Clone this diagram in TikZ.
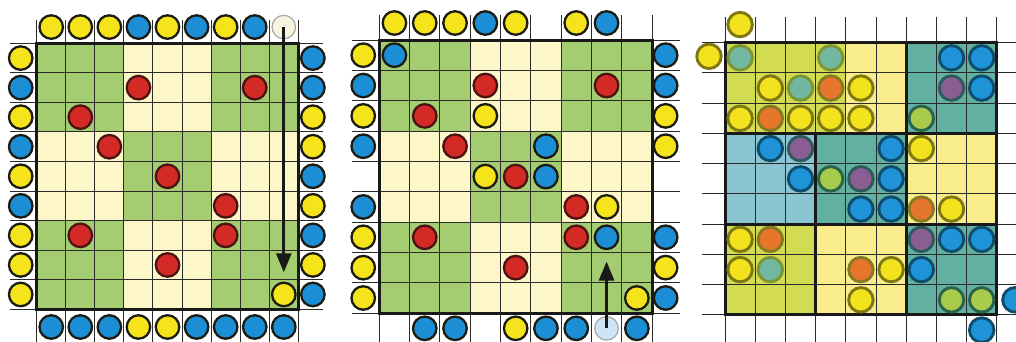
\documentclass[tikz,border=0pt]{standalone}
\usetikzlibrary{arrows.meta}
\definecolor{cgreen}{HTML}{A4CD72}
\definecolor{ccream}{HTML}{FCF6C8}
\definecolor{cyel}{HTML}{F5E41C}
\definecolor{cblue}{HTML}{1B8ED6}
\definecolor{cred}{HTML}{D42A25}
\definecolor{credline}{HTML}{4A1212}
\definecolor{cline}{HTML}{1C1C12}
\definecolor{gridc}{HTML}{2A2A2A}
\definecolor{ghostw}{HTML}{F8F5DE}
\definecolor{ghostb}{HTML}{CDE5F5}
% panel 3
\definecolor{tyg}{HTML}{D3DB52}
\definecolor{tly}{HTML}{F8EC8C}
\definecolor{tteal}{HTML}{62B0A2}
\definecolor{tlb}{HTML}{8AC6D2}
\definecolor{tY}{HTML}{F3E31E}
\definecolor{tYd}{HTML}{7D7812}
\definecolor{tO}{HTML}{E5762B}
\definecolor{tOd}{HTML}{867A22}
\definecolor{tS}{HTML}{72B8A0}
\definecolor{tSd}{HTML}{7C9634}
\definecolor{tB}{HTML}{1F93D8}
\definecolor{tBd}{HTML}{0E4D6C}
\definecolor{tP}{HTML}{8B5E93}
\definecolor{tPd}{HTML}{2E5A5C}
\definecolor{tL}{HTML}{A9CB4C}
\definecolor{tLd}{HTML}{2A6448}
\tikzset{
  pc/.style={circle, minimum size=23.5pt, inner sep=0pt, line width=2.3pt, draw=cline},
  yc/.style={pc, fill=cyel},
  bc/.style={pc, fill=cblue},
  rc/.style={pc, fill=cred, draw=credline},
  gw/.style={pc, fill=ghostw, draw=gray!70, line width=1.2pt},
  gb/.style={pc, fill=ghostb, draw=gray!70, line width=1.2pt},
  tc/.style={circle, minimum size=24.5pt, inner sep=0pt, line width=2.9pt},
  ty/.style={tc, fill=tY, draw=tYd},
  to/.style={tc, fill=tO, draw=tOd},
  ts/.style={tc, fill=tS, draw=tSd},
  tb/.style={tc, fill=tB, draw=tBd},
  tp/.style={tc, fill=tP, draw=tPd},
  tl/.style={tc, fill=tL, draw=tLd},
  thin grid/.style={draw=gridc, line width=1pt},
  frame/.style={draw=black!90, line width=3pt},
  arr/.style={draw=black!90, line width=2.8pt, -{Triangle[width=15pt,length=19pt]}},
}
\begin{document}
\begin{tikzpicture}[x=1pt, y=-1pt]
\useasboundingbox[fill=white] (0,0) rectangle (1016,341);

% ================= Panel 1 =================
\begin{scope}[shift={(36.7,43.3)}, x=29.07pt, y=-29.55pt]
  \foreach \br in {0,1,2}{
    \foreach \bc in {0,1,2}{
      \pgfmathtruncatemacro{\pty}{mod(\br+\bc,2)}
      \ifnum\pty=0
        \fill[cgreen] (3*\bc,3*\br) rectangle ++(3,3);
      \else
        \fill[ccream] (3*\bc,3*\br) rectangle ++(3,3);
      \fi
    }
  }
  \foreach \k in {0,...,9}{
    \draw[thin grid] (\k,-0.8) -- (\k,10.2);
    \draw[thin grid] (-0.92,\k) -- (9.85,\k);
  }
  \draw[frame] (0,0) rectangle (9,9);
  % border circles
  \foreach \s [count=\i from 0] in {yc,yc,yc,bc,yc,bc,yc,bc}
    \node[\s] (aT\i) at (\i+0.5,-0.55) {};
  \node[gw] (aG) at (8.5,-0.55) {};
  \foreach \s [count=\i from 0] in {bc,bc,bc,yc,yc,bc,bc,bc,bc}
    \node[\s] (aB\i) at (\i+0.5,9.6) {};
  \foreach \s [count=\i from 0] in {yc,bc,yc,bc,yc,bc,yc,yc,yc}
    \node[\s] (aL\i) at (-0.55,\i+0.5) {};
  \foreach \s [count=\i from 0] in {bc,bc,yc,yc,bc,yc,bc,yc,bc}
    \node[\s] (aR\i) at (9.5,\i+0.5) {};
  % inner circles
  \foreach \r/\c/\s [count=\i] in {1/3/rc,1/7/rc,2/1/rc,3/2/rc,4/4/rc,5/6/rc,6/1/rc,6/6/rc,7/4/rc,8/8/yc}
    \node[\s] (aI\i) at (\c+0.5,\r+0.5) {};
  \coordinate (aTip) at (8.5,7.75);
  \draw[arr] (aG.center) -- (aTip);
\end{scope}

% ================= Panel 2 =================
\begin{scope}[shift={(379.3,40)}, x=30.3pt, y=-30.35pt]
  \foreach \br in {0,1,2}{
    \foreach \bc in {0,1,2}{
      \pgfmathtruncatemacro{\pty}{mod(\br+\bc,2)}
      \ifnum\pty=0
        \fill[cgreen] (3*\bc,3*\br) rectangle ++(3,3);
      \else
        \fill[ccream] (3*\bc,3*\br) rectangle ++(3,3);
      \fi
    }
  }
  \foreach \k in {0,...,9}{
    \draw[thin grid] (\k,-0.83) -- (\k,9.95);
    \draw[thin grid] (-0.9,\k) -- (9.93,\k);
  }
  \draw[frame] (0,0) rectangle (9,9);
  \foreach \c/\s in {0/yc,1/yc,2/yc,3/bc,4/yc,6/yc,7/bc}
    \node[\s] (bT\c) at (\c+0.5,-0.56) {};
  \foreach \c/\s in {1/bc,2/bc,4/yc,5/bc,6/bc,8/bc}
    \node[\s] (bB\c) at (\c+0.5,9.5) {};
  \node[gb] (bG) at (7.5,9.5) {};
  \foreach \r/\s in {0/yc,1/bc,2/yc,3/bc,5/bc,6/yc,7/yc,8/yc}
    \node[\s] (bL\r) at (-0.53,\r+0.5) {};
  \foreach \r/\s in {0/bc,1/bc,2/yc,3/yc,6/bc,7/yc,8/bc}
    \node[\s] (bR\r) at (9.45,\r+0.5) {};
  \foreach \r/\c/\s [count=\i] in {0/0/bc,1/3/rc,1/7/rc,2/1/rc,2/3/yc,3/2/rc,3/5/bc,4/3/yc,4/4/rc,4/5/bc,5/6/rc,5/7/yc,6/1/rc,6/6/rc,6/7/bc,7/4/rc,8/8/yc}
    \node[\s] (bI\i) at (\c+0.5,\r+0.5) {};
  \coordinate (bTip) at (7.5,7.3);
  \draw[arr] (bG.center) -- (bTip);
\end{scope}

% ================= Panel 3 =================
\begin{scope}[shift={(725,42.7)}, x=30.2pt, y=-30.25pt]
  \fill[tyg] (0,0) rectangle (4,3);
  \fill[tly] (4,0) rectangle (6,3);
  \fill[tteal] (6,0) rectangle (9,3);
  \fill[tlb] (0,3) rectangle (3,6);
  \fill[tteal] (3,3) rectangle (6,6);
  \fill[tly] (6,3) rectangle (9,6);
  \fill[tyg] (0,6) rectangle (3,9);
  \fill[tly] (3,6) rectangle (6,9);
  \fill[tteal] (6,6) rectangle (9,9);
  \foreach \k in {0,...,9}{
    \draw[thin grid] (\k,-0.86) -- (\k,9.9);
    \draw[thin grid] (-0.76,\k) -- (9.7,\k);
  }
  \draw[frame] (0,0) rectangle (9,9);
  \draw[frame] (0,3) -- (9,3);
  \draw[frame] (0,6) -- (9,6);
  \draw[frame] (6,0) -- (6,9);
  \draw[frame] (3,3) -- (3,9);
  \node[ty] (cT0) at (0.5,-0.6) {};
  \node[ty] (cL0) at (-0.53,0.45) {};
  \node[tb] (cR8) at (9.6,8.5) {};
  \node[tb] (cB8) at (8.5,9.5) {};
  \foreach \r/\c/\s [count=\i] in {
      0/0/ts,0/3/ts,0/7/tb,0/8/tb,
      1/1/ty,1/2/ts,1/3/to,1/4/ty,1/7/tp,1/8/tb,
      2/0/ty,2/1/to,2/2/ty,2/3/ty,2/4/ty,2/6/tl,
      3/1/tb,3/2/tp,3/5/tb,3/6/ty,
      4/2/tb,4/3/tl,4/4/tp,4/5/tb,
      5/4/tb,5/5/tb,5/6/to,5/7/ty,
      6/0/ty,6/1/to,6/6/tp,6/7/tb,6/8/tb,
      7/0/ty,7/1/ts,7/4/to,7/5/ty,7/6/tb,
      8/4/ty,8/7/tl,8/8/tl}
    \node[\s] (cI\i) at (\c+0.5,\r+0.5) {};
\end{scope}
\end{tikzpicture}
\end{document}
